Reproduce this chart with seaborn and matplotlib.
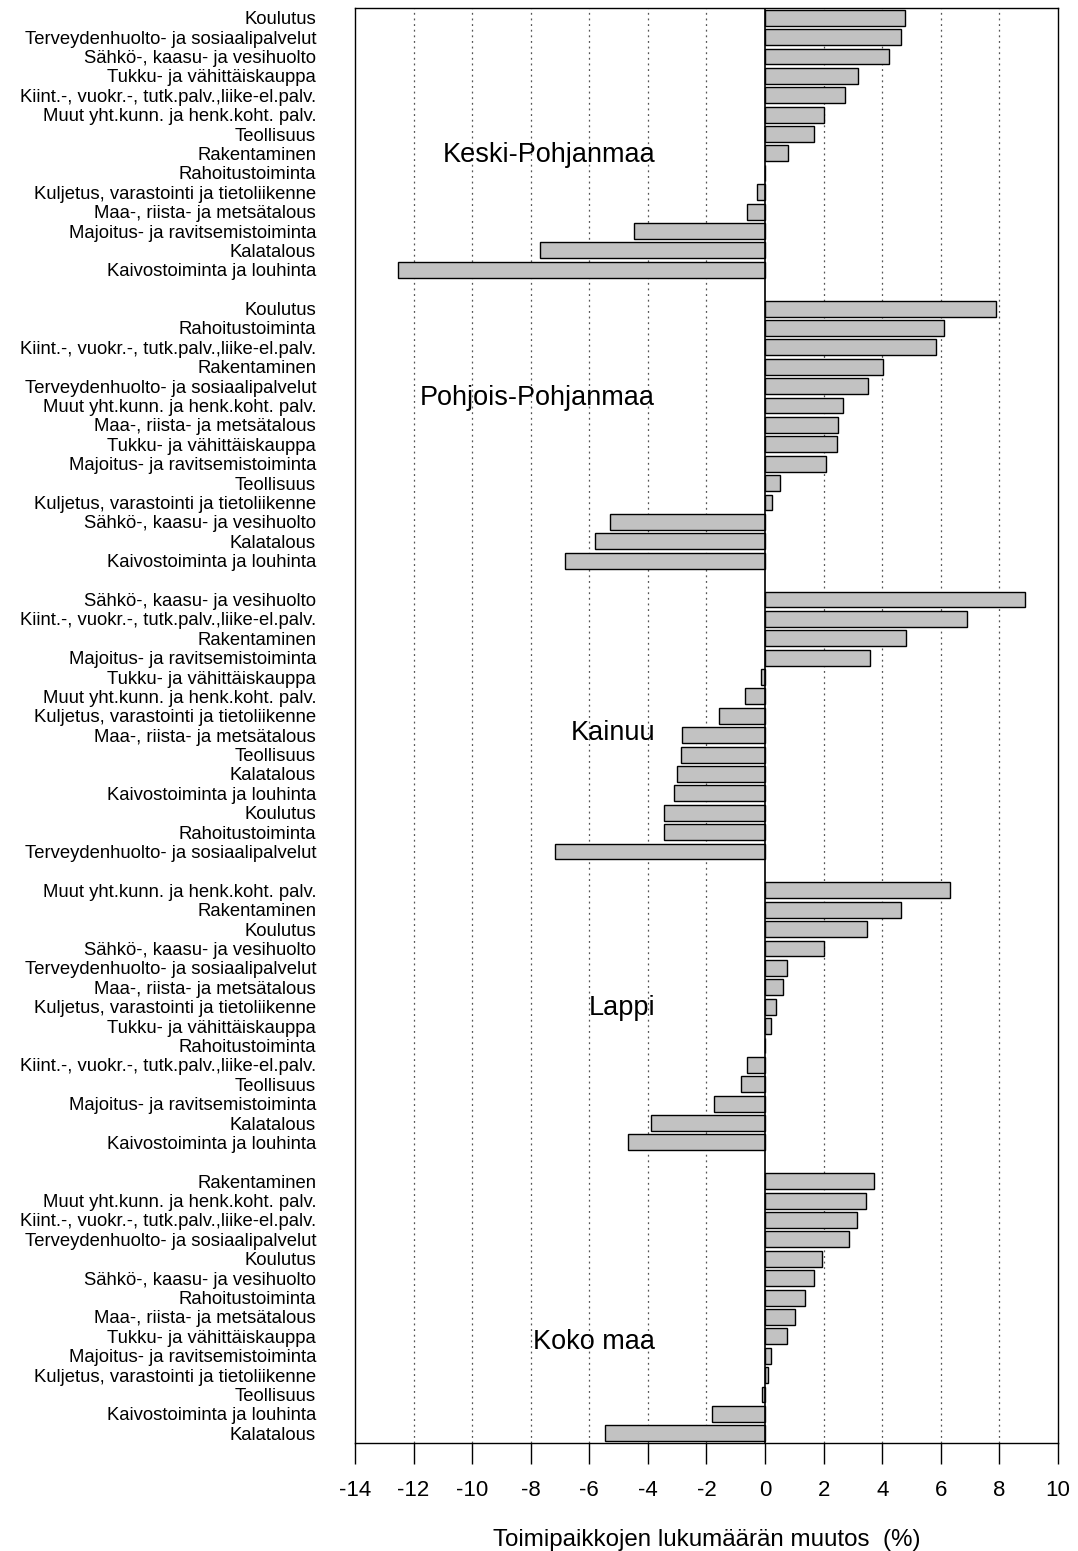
import matplotlib
matplotlib.use("Agg")
import matplotlib.pyplot as plt
import seaborn as sns
import pandas as pd
import numpy as np

# ---------------- data ----------------
regions = ["Keski-Pohjanmaa", "Pohjois-Pohjanmaa", "Kainuu", "Lappi", "Koko maa"]

keski_labels = ["Koulutus", "Terveydenhuolto- ja sosiaalipalvelut", "Sähkö-, kaasu- ja vesihuolto",
                "Tukku- ja vähittäiskauppa", "Kiint.-, vuokr.-, tutk.palv.,liike-el.palv.",
                "Muut yht.kunn. ja henk.koht. palv.", "Teollisuus", "Rakentaminen", "Rahoitustoiminta",
                "Kuljetus, varastointi ja tietoliikenne", "Maa-, riista- ja metsätalous",
                "Majoitus- ja ravitsemistoiminta", "Kalatalous", "Kaivostoiminta ja louhinta"]
keski_values = [4.79, 4.64, 4.22, 3.16, 2.72, 2.02, 1.66, 0.78, 0.0, -0.26, -0.61, -4.46, -7.69, -12.52]

pohjois_labels = ["Koulutus", "Rahoitustoiminta", "Kiint.-, vuokr.-, tutk.palv.,liike-el.palv.",
                  "Rakentaminen", "Terveydenhuolto- ja sosiaalipalvelut",
                  "Muut yht.kunn. ja henk.koht. palv.", "Maa-, riista- ja metsätalous",
                  "Tukku- ja vähittäiskauppa", "Majoitus- ja ravitsemistoiminta", "Teollisuus",
                  "Kuljetus, varastointi ja tietoliikenne", "Sähkö-, kaasu- ja vesihuolto",
                  "Kalatalous", "Kaivostoiminta ja louhinta"]
pohjois_values = [7.89, 6.12, 5.84, 4.04, 3.53, 2.67, 2.50, 2.46, 2.07, 0.52, 0.25, -5.29, -5.82, -6.84]

kainuu_labels = ["Sähkö-, kaasu- ja vesihuolto", "Kiint.-, vuokr.-, tutk.palv.,liike-el.palv.",
                 "Rakentaminen", "Majoitus- ja ravitsemistoiminta", "Tukku- ja vähittäiskauppa",
                 "Muut yht.kunn. ja henk.koht. palv.", "Kuljetus, varastointi ja tietoliikenne",
                 "Maa-, riista- ja metsätalous", "Teollisuus", "Kalatalous",
                 "Kaivostoiminta ja louhinta", "Koulutus", "Rahoitustoiminta",
                 "Terveydenhuolto- ja sosiaalipalvelut"]
kainuu_values = [8.87, 6.90, 4.80, 3.57, -0.15, -0.68, -1.58, -2.84, -2.88, -3.01, -3.10, -3.45, -3.45, -7.16]

lappi_labels = ["Muut yht.kunn. ja henk.koht. palv.", "Rakentaminen", "Koulutus",
                "Sähkö-, kaasu- ja vesihuolto", "Terveydenhuolto- ja sosiaalipalvelut",
                "Maa-, riista- ja metsätalous", "Kuljetus, varastointi ja tietoliikenne",
                "Tukku- ja vähittäiskauppa", "Rahoitustoiminta",
                "Kiint.-, vuokr.-, tutk.palv.,liike-el.palv.", "Teollisuus",
                "Majoitus- ja ravitsemistoiminta", "Kalatalous", "Kaivostoiminta ja louhinta"]
lappi_values = [6.30, 4.65, 3.49, 2.00, 0.75, 0.62, 0.38, 0.19, 0.0, -0.62, -0.82, -1.75, -3.89, -4.68]

koko_labels = ["Rakentaminen", "Muut yht.kunn. ja henk.koht. palv.",
               "Kiint.-, vuokr.-, tutk.palv.,liike-el.palv.", "Terveydenhuolto- ja sosiaalipalvelut",
               "Koulutus", "Sähkö-, kaasu- ja vesihuolto", "Rahoitustoiminta",
               "Maa-, riista- ja metsätalous", "Tukku- ja vähittäiskauppa",
               "Majoitus- ja ravitsemistoiminta", "Kuljetus, varastointi ja tietoliikenne",
               "Teollisuus", "Kaivostoiminta ja louhinta", "Kalatalous"]
koko_values = [3.71, 3.43, 3.15, 2.86, 1.94, 1.67, 1.35, 1.03, 0.76, 0.20, 0.09, -0.12, -1.80, -5.47]

x_ticks = [-14, -12, -10, -8, -6, -4, -2, 0, 2, 4, 6, 8, 10]
x_label = "Toimipaikkojen lukumäärän muutos  (%)"

# ---------------- build table ----------------
all_labels = [keski_labels, pohjois_labels, kainuu_labels, lappi_labels, koko_labels]
all_values = [keski_values, pohjois_values, kainuu_values, lappi_values, koko_values]
rows = []
for g, (labs, vals) in enumerate(zip(all_labels, all_values)):
    for i, (lab, v) in enumerate(zip(labs, vals)):
        rows.append({"region": regions[g], "industry": lab, "value": v, "pos": g * 15 + i})
df = pd.DataFrame(rows)

# ---------------- plot ----------------
sns.set_theme(style="white")
plt.rcParams["font.family"] = ["Liberation Sans", "DejaVu Sans"]
plt.rcParams["text.color"] = "black"
plt.rcParams["xtick.color"] = "black"
plt.rcParams["ytick.color"] = "black"
plt.rcParams["axes.labelcolor"] = "black"

fig = plt.figure(figsize=(10.78, 15.51), dpi=100)
ax = fig.add_axes([355 / 1078, 1 - 1443 / 1551, (1058 - 355) / 1078, (1443 - 8) / 1551])

sns.barplot(data=df, x="value", y="pos", orient="h", native_scale=True,
            color="#c2c2c2", saturation=1, edgecolor="black", linewidth=1.0,
            width=0.82, ax=ax, zorder=3)

ax.set_xlim(-14, 10)
ax.set_ylim(73.5, -0.5)
ax.set_xticks(x_ticks)
ax.set_xticklabels([str(t) for t in x_ticks], fontsize=16)
ax.set_yticks(df["pos"].tolist())
ax.set_yticklabels(df["industry"].tolist(), fontsize=13.3)
ax.tick_params(axis="y", length=0, pad=28)
ax.tick_params(axis="x", length=15, width=1, color="black", direction="out", pad=12, bottom=True)
ax.set_xlabel(x_label, fontsize=17.4, labelpad=20)
ax.set_ylabel("")

for t in x_ticks:
    if t == 0:
        ax.axvline(0, color="black", lw=1.2, zorder=4)
    elif -14 < t < 10:
        ax.axvline(t, color="#555555", lw=0.9, ls=(0, (1.5, 3)), zorder=1)

for s in ax.spines.values():
    s.set_visible(True)
    s.set_color("black")
    s.set_linewidth(1.0)

# group labels
label_pos = [7.1, 19.6, 36.9, 51.05, 68.3]
for name, yp in zip(regions, label_pos):
    ax.text(-3.75, yp, name, ha="right", va="center", fontsize=19.5, color="black", zorder=5)

fig.savefig("out.png", dpi=100)
